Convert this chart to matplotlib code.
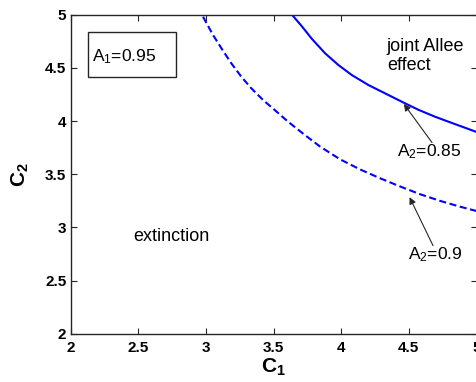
import matplotlib
matplotlib.use("Agg")
import matplotlib.pyplot as plt
from matplotlib.patches import Rectangle

# Data
c1_085 = [3.635, 3.709, 3.783, 3.881, 3.979, 4.078, 4.201, 4.324, 4.448,
          4.571, 4.694, 4.817, 4.940, 5.0]
c2_085 = [5.0, 4.890, 4.772, 4.636, 4.526, 4.432, 4.338, 4.260, 4.181,
          4.105, 4.040, 3.982, 3.925, 3.897]

c1_090 = [2.979, 3.053, 3.115, 3.188, 3.262, 3.336, 3.423, 3.509, 3.608,
          3.731, 3.844, 3.992, 4.140, 4.288, 4.436, 4.584, 4.731, 4.879, 5.0]
c2_090 = [4.979, 4.808, 4.683, 4.542, 4.416, 4.307, 4.197, 4.103, 3.993,
          3.869, 3.760, 3.640, 3.545, 3.462, 3.385, 3.312, 3.250, 3.195, 3.155]

xticks = [2, 2.5, 3, 3.5, 4, 4.5, 5]
yticks = [2, 2.5, 3, 3.5, 4, 4.5, 5]
xtick_labels = ["2", "2.5", "3", "3.5", "4", "4.5", "5"]
ytick_labels = ["2", "2.5", "3", "3.5", "4", "4.5", "5"]

plt.rcParams['font.family'] = ['Liberation Sans', 'DejaVu Sans']
plt.rcParams['mathtext.fontset'] = 'custom'
plt.rcParams['mathtext.rm'] = 'Liberation Sans'
plt.rcParams['mathtext.it'] = 'Liberation Sans:italic'
plt.rcParams['mathtext.bf'] = 'Liberation Sans:bold'

fig = plt.figure(figsize=(4.77, 3.82), dpi=100)
ax = fig.add_axes([0.1478, 0.1257, 0.8512, 0.8363])

ax.plot(c1_085, c2_085, color='#0000ff', lw=1.5, solid_joinstyle='round')
ax.plot(c1_090, c2_090, color='#0000ff', lw=1.5, dashes=(3.4, 1.7),
        dash_joinstyle='round')

ax.set_xlim(2, 5)
ax.set_ylim(2, 5)
ax.set_xticks(xticks)
ax.set_xticklabels(xtick_labels, fontsize=11, fontweight='bold')
ax.set_yticks(yticks)
ax.set_yticklabels(ytick_labels, fontsize=11, fontweight='bold')
ax.tick_params(direction='in', length=4, width=0.8, top=True, right=True,
               colors='#262626', labelcolor='black')
ax.tick_params(axis='x', pad=5)
ax.tick_params(axis='y', pad=3)
for s in ax.spines.values():
    s.set_color('#262626')
    s.set_linewidth(1.0)

ax.set_xlabel(r'$\mathbf{C_1}$', fontsize=15, labelpad=1)
ax.set_ylabel(r'$\mathbf{C_2}$', fontsize=15, labelpad=10)

ax.add_patch(Rectangle((2.127, 4.410), 0.651, 0.428, fill=False,
                       ec='#262626', lw=1.0, zorder=3))
ax.text(2.161, 4.60, r'A$_1$=0.95', fontsize=12.5, va='center', ha='left')

ax.text(2.464, 2.914, 'extinction', fontsize=13, va='center', ha='left')
ax.text(4.337, 4.61, 'joint Allee\neffect', fontsize=13, va='center', ha='left',
        linespacing=1.2)

ax.annotate(r'A$_2$=0.85', xy=(4.463, 4.16), xytext=(4.41, 3.71),
            fontsize=12.5, va='center', ha='left',
            arrowprops=dict(arrowstyle='-|>', color='#262626', lw=0.8,
                            mutation_scale=10, shrinkA=0, shrinkB=0,
                            patchA=None, relpos=(0.55, 1.0)))
ax.annotate(r'A$_2$=0.9', xy=(4.505, 3.285), xytext=(4.497, 2.742),
            fontsize=12.5, va='center', ha='left',
            arrowprops=dict(arrowstyle='-|>', color='#262626', lw=0.8,
                            mutation_scale=10, shrinkA=0, shrinkB=0,
                            patchA=None, relpos=(0.45, 1.0)))

fig.savefig('out.png', dpi=100)
